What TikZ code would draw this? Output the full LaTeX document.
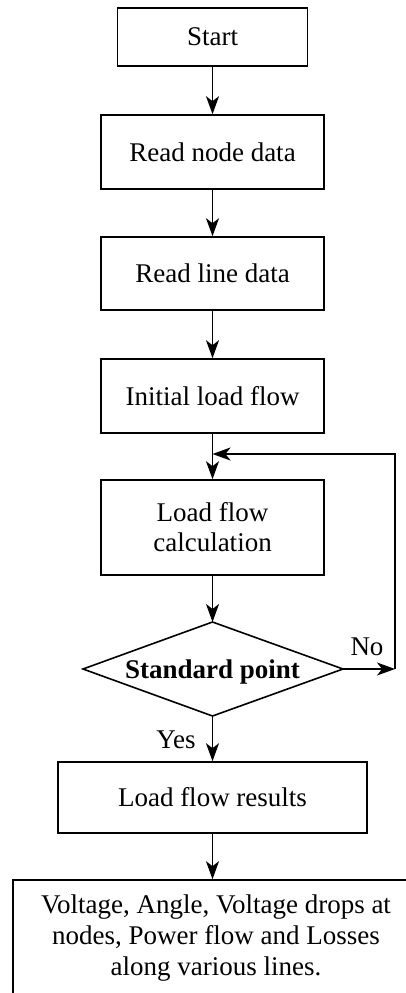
\documentclass[tikz,border=0pt]{standalone}
\usepackage{fontspec}
\setmainfont{Liberation Serif}
\usetikzlibrary{arrows.meta}
\begin{document}
\begin{tikzpicture}[x=1pt,y=1pt,
  every node/.style={font=\fontsize{27}{31}\selectfont},
  procbox/.style={draw,line width=1.6pt,rectangle,inner sep=0pt,align=center},
  flow/.style={line width=1.7pt,-{Stealth[length=18pt,width=13pt,inset=5pt]}},
  plain/.style={line width=1.6pt}]
\useasboundingbox (0,0) rectangle (406,-993);
\clip (0,0) rectangle (406,-993);
\node[procbox,minimum width=190pt,minimum height=58pt] (start) at (212.5,-37) {Start};
\node[procbox,minimum width=223pt,minimum height=74pt] (rnd) at (212.5,-152) {Read node data};
\node[procbox,minimum width=223pt,minimum height=73pt] (rld) at (212.5,-273.5) {Read line data};
\node[procbox,minimum width=223pt,minimum height=74pt] (ilf) at (212.5,-396) {Initial load flow};
\node[procbox,minimum width=223pt,minimum height=95pt,font=\fontsize{27}{30}\selectfont] (lfc) at (212.5,-527.5) {Load flow\\calculation};
% decision diamond
\coordinate (dt) at (212.5,-622);
\coordinate (db) at (212.5,-716);
\coordinate (dl) at (83,-669);
\coordinate (dr) at (343,-669);
\draw[plain,line join=miter] (dt) -- (dr) -- (db) -- (dl) -- cycle;
\node (dec) at (212.5,-672) {\textbf{Standard point}};
\node[procbox,minimum width=309pt,minimum height=71pt] (lfr) at (212.5,-797.5) {Load flow results};
\node[procbox,minimum width=406pt,minimum height=116pt] (out) at (216,-938) {Voltage, Angle, Voltage drops at\\nodes, Power flow and Losses\\along various lines.};
\coordinate (c1) at (395,-669);
\coordinate (c2) at (395,-454);
\coordinate (j) at (212.5,-454);
\draw[flow] (start) -- (rnd);
\draw[flow] (rnd) -- (rld);
\draw[flow] (rld) -- (ilf);
\draw[flow] (ilf) -- (lfc);
\draw[flow] (lfc.south) -- (dt);
\draw[flow] (dr) -- (c1);
\draw[flow] (c1) -- (c2) -- (j);
\draw[flow] (db) -- (lfr.north);
\draw[flow] (lfr.south) -- (out.north -| db);
\node (no) at (367,-647) {No};
\node (yes) at (176,-740) {Yes};
\end{tikzpicture}
\end{document}
